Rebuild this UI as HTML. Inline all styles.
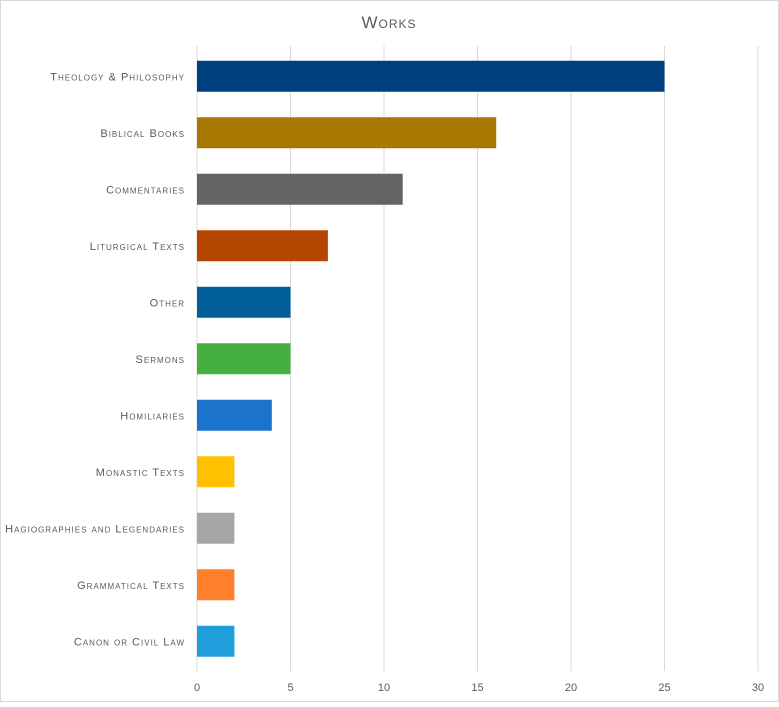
<!DOCTYPE html>
<html><head><meta charset="utf-8"><style>
body{margin:0;background:#fff;}
svg text{font-family:"Liberation Sans",sans-serif;fill:#595959;}
</style></head><body>
<svg id="chart" width="779" height="702" xmlns="http://www.w3.org/2000/svg">
<rect x="0.5" y="0.5" width="778" height="701" fill="#fff" stroke="#d9d9d9"/>
<text x="389" y="28" text-anchor="middle" font-size="17" style="font-variant:small-caps;letter-spacing:1px">Works</text>
<g id="grid"></g><g id="bars"></g><g id="labels"></g><g id="ticks"></g>
</svg>
<script>
const categories=["Theology & Philosophy","Biblical Books","Commentaries","Liturgical Texts","Other","Sermons","Homiliaries","Monastic Texts","Hagiographies and Legendaries","Grammatical Texts","Canon or Civil Law"];
const values=[25,16,11,7,5,5,4,2,2,2,2];
const colors=["#003f7d","#a87700","#646464","#b54600","#005f99","#45b03f","#1c73cc","#ffc000","#a6a6a6","#ff7f2a","#1e9fdb"];
const tickLabels=[0,5,10,15,20,25,30];
const NS="http://www.w3.org/2000/svg";
const x0=197,x1=758,xMax=30,yTop=48,band=56.5,barH=31;
const xs=v=>x0+(x1-x0)*v/xMax;
const yc=i=>yTop+band*i+band/2;
function mk(t,a,p){const e=document.createElementNS(NS,t);for(const k in a)e.setAttribute(k,a[k]);document.getElementById(p).appendChild(e);return e;}
tickLabels.forEach(t=>{
 const l=mk("line",{x1:xs(t),x2:xs(t),y1:46,y2:671,stroke:"#d9d9d9","stroke-width":1},"grid");
 
 
 const tx=mk("text",{x:xs(t),y:691,"text-anchor":"middle","font-size":11},"ticks");
 tx.textContent=t;
 
 
});
categories.forEach((c,i)=>{
 const r=mk("rect",{x:x0,y:yc(i)-barH/2,width:xs(values[i])-x0,height:barH,fill:colors[i]},"bars");
 
 
 const t=mk("text",{x:185,y:yc(i)+4,"text-anchor":"end","font-size":11,style:"font-variant:small-caps;letter-spacing:1px"},"labels");
 t.textContent=c;
 
 
});
</script>
</body></html>
